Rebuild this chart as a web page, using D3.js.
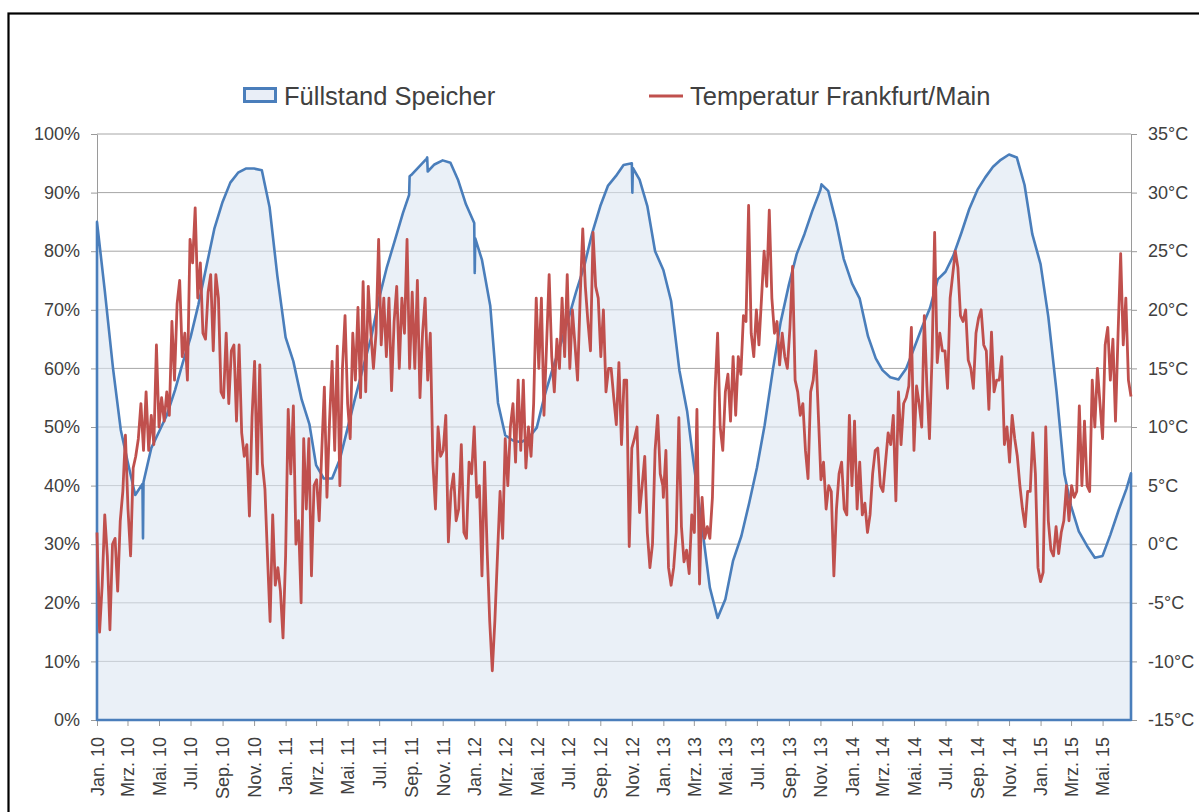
<!DOCTYPE html>
<html>
<head>
<meta charset="utf-8">
<script src="https://cdn.jsdelivr.net/npm/d3@7"></script>
<style>
body { margin: 0; background: #fff; }
text { font-family: "Liberation Sans", Arial, sans-serif; fill: #404040; }
</style>
</head>
<body>
<script>
// Fuellstand Speicher in %, one value on the 1st and one on the 16th of each month
var storage2010 = [85, 73.3, 60, 49.5, 44.2, 38.4, 40.6, 46.4, 49.2, 52, 56.3, 61, 65.3, 70.8, 77.5, 83.8, 88.4, 91.7, 93.4, 94.1, 94.1, 93.8, 87.5, 75.8]
var storage2011 = [65.3, 61.2, 54.7, 50.5, 43.5, 41.2, 41.2, 44.5, 49.8, 55.1, 60.5, 65.4, 72, 77.3, 82, 86.5, 93, 94.4, 95.8, 94.8, 95.5, 95.1, 92.1, 88]
var storage2012 = [84.8, 78.5, 70.7, 54.1, 48.6, 47.7, 47.4, 48.2, 49.9, 55.3, 60, 64, 68.4, 73, 77.5, 83, 87.7, 91.2, 92.8, 94.7, 95, 92.2, 87.7, 80]
var storage2013 = [76.8, 71.5, 59.7, 52.7, 43.6, 33.6, 22.6, 17.4, 20.6, 27.2, 31.4, 37, 43, 50.3, 59.8, 67.9, 74.3, 79.5, 82.9, 86.8, 90.5, 90.3, 85.1, 78.7]
var storage2014 = [74.5, 71.9, 65.5, 61.7, 59.7, 58.5, 58.1, 60, 63.4, 66.9, 70.3, 75.2, 76.5, 79.2, 83.2, 87.2, 90.5, 92.6, 94.4, 95.6, 96.5, 96, 91.3, 82.9]
var storage2015 = [77.8, 68.8, 56, 42, 36.5, 32.2, 29.7, 27.7, 28, 31.6, 35.8, 39.4]
// single-day jumps and the last value
var storageExtra = [["2010-03-30", 40.3], ["2010-03-31", 31], ["2011-08-28", 89.6], ["2011-08-29", 92.8],
  ["2011-10-02", 96], ["2011-10-03", 93.6], ["2012-01-02", 76.3], ["2012-01-03", 82.2],
  ["2012-11-02", 90], ["2012-11-03", 94.2], ["2013-11-03", 91.4], ["2015-06-25", 42.1]]

// Temperatur Frankfurt/Main in degC, one value every 5 days from Jan 1
var temp2010 = [1, -7.5, -3.5, 2.5, -1, -7.3, 0, 0.5, -4, 2, 4.5, 9.3, 3, -1, 6.5, 7.5, 9, 12, 8, 13,
  8, 11, 8.5, 17, 10, 12.5, 10.5, 13, 11, 19, 14, 20.5, 22.5, 16, 18, 14, 26, 24, 28.7, 21,
  24, 18, 17.5, 21.5, 23, 16.5, 23, 21, 13, 12.5, 18, 12, 16.5, 17, 10.5, 17, 9.5, 7.5, 8.5, 2.4,
  10.8, 15.6, 6, 15.3, 6.9, 4.7, -1.1, -6.6, 2.5, -3.5, -2, -4, -8]
var temp2011 = [-1, 11.5, 6, 11.8, 0, 2, -5, 9, 3, 9, -2.7, 5, 5.5, 2, 8, 13.4, 4, 10.5, 15.6, 8,
  16.9, 5, 15, 19.5, 12, 9, 18, 14, 20.2, 12.5, 22.4, 13, 22, 18, 15, 18, 26, 17, 21, 16,
  21, 13.1, 19, 22, 15, 21, 18, 26, 15, 21.5, 15, 22.5, 12.5, 18, 21, 14, 18, 7, 3, 10,
  7.5, 8, 11, 0.2, 4.5, 6, 2, 3, 8.5, 1, 0.5, 7, 6]
var temp2012 = [10, 4, 5, -2.7, 7, -0.5, -6.6, -10.8, -6.5, -1, 4.5, 0.5, 9, 5, 10, 12, 7, 14, 8, 14,
  6.5, 10, 7.5, 12, 21, 15, 21, 11, 17, 23, 16, 13, 17.5, 15, 21, 16, 23, 15, 20, 17,
  14, 21, 26.9, 22, 19, 16.5, 26.6, 22, 21, 16, 20, 13, 15, 15, 12.5, 10.2, 15.5, 8.5, 14, 14,
  -0.2, 8.2, 9, 10, 2.7, 5, 7.5, 1, -2, 0, 8, 11, 6, 5]
var temp2013 = [4, 8, -2, -3.5, -2, 1, 10.8, 1.5, -1.5, -0.5, -2.5, 2.5, 1, 11.5, -3.4, 4, 0.5, 1.5, 0.5, 4,
  13, 18, 10, 8, 13, 14.5, 10.5, 16, 11, 16, 14.5, 19.5, 19, 28.9, 18, 16, 20, 17, 21, 25,
  22, 28.5, 21, 18, 19, 15.3, 18, 16, 15, 18.5, 23.7, 14, 13, 11, 12, 8, 5.6, 13, 14, 16.5,
  11, 5.5, 7, 3, 5, 4.5, -2.7, 3, 6, 7, 3, 2.5, 11]
var temp2014 = [5, 10.5, 3, 7, 2.5, 3.5, 1, 2.5, 6, 8, 8.2, 5, 4.5, 7, 9.5, 8.5, 11, 3.7, 13, 8.5,
  12, 12.5, 13.5, 18.5, 8, 13.5, 12, 10, 19.5, 13.5, 9, 16, 26.6, 15.5, 18, 16.5, 16.5, 13.3, 21, 23,
  25, 23.6, 19.5, 19, 20, 15.7, 15, 13.3, 18, 19.3, 20, 17, 16.5, 11.5, 18.1, 13, 14, 14, 16, 8.5,
  10, 7, 11, 9, 7.5, 5, 3, 1.5, 4.5, 4.5, 9.5, 6, -2]
var temp2015 = [-3.2, -2.4, 10, 2, -0.5, -1, 1.5, -0.8, 1, 2, 5, 2, 5, 4, 4.5, 11.8, 5, 10.5, 5, 4.5,
  14, 10, 15, 12, 9, 17, 18.5, 14, 17.5, 10.5, 18, 24.8, 17, 21, 14, 12.6]

var monthNames = ["Jan.", "Feb.", "Mrz.", "Apr.", "Mai.", "Jun.", "Jul.", "Aug.", "Sep.", "Okt.", "Nov.", "Dez."]
var pctTicks = [0, 10, 20, 30, 40, 50, 60, 70, 80, 90, 100]
var tempTicks = [-15, -10, -5, 0, 5, 10, 15, 20, 25, 30, 35]

var storageYears = [[2010, storage2010], [2011, storage2011], [2012, storage2012],
                    [2013, storage2013], [2014, storage2014], [2015, storage2015]]
var tempYears = [[2010, temp2010], [2011, temp2011], [2012, temp2012],
                 [2013, temp2013], [2014, temp2014], [2015, temp2015]]

var storage = []
storageYears.forEach(function(p) {
  p[1].forEach(function(v, i) {
    storage.push({date: new Date(p[0], Math.floor(i / 2), i % 2 ? 16 : 1), value: v})
  })
})
storageExtra.forEach(function(e) {
  var s = e[0].split("-")
  storage.push({date: new Date(+s[0], +s[1] - 1, +s[2]), value: e[1]})
})
storage.sort(function(a, b) { return a.date - b.date })

var temps = []
tempYears.forEach(function(p) {
  p[1].forEach(function(v, i) {
    temps.push({date: d3.timeDay.offset(new Date(p[0], 0, 1), 5 * i), value: v})
  })
})

var svg = d3.select("body").append("svg")
  .attr("width", 1199)
  .attr("height", 812)

// outer frame
svg.append("rect")
  .attr("x", 8.5).attr("y", 13.5)
  .attr("width", 1300).attr("height", 900)
  .attr("fill", "none").attr("stroke", "#000").attr("stroke-width", 2.2)

var plotLeft = 97, plotRight = 1131, plotTop = 134, plotBottom = 720

var x = d3.scaleTime().domain([new Date(2010, 0, 1), new Date(2015, 5, 25)]).range([plotLeft, plotRight])
var yPct = d3.scaleLinear().domain([0, 100]).range([plotBottom, plotTop])
var yTemp = d3.scaleLinear().domain([-15, 35]).range([plotBottom, plotTop])

// gridlines
svg.append("g").selectAll("line")
  .data(pctTicks.slice(1)).enter()
  .append("line")
  .attr("x1", plotLeft).attr("x2", plotRight)
  .attr("y1", function(d) { return yPct(d) })
  .attr("y2", function(d) { return yPct(d) })
  .attr("stroke", "#a6a6a6")
  .attr("stroke-width", 1)

function styleAxis(g) {
  g.select(".domain").attr("stroke", "#9a9a9a").attr("stroke-width", 1)
  g.selectAll(".tick line").attr("stroke", "#9a9a9a")
  g.selectAll("text").attr("font-size", "18px").attr("fill", "#404040")
    .attr("font-family", "'Liberation Sans', Arial, sans-serif")
}

var yAxisL = svg.append("g")
  .attr("transform", "translate(" + plotLeft + ",0)")
  .call(d3.axisLeft(yPct).tickValues(pctTicks).tickFormat(function(d) { return d + "%" })
    .tickSize(6).tickSizeOuter(0).tickPadding(11))
styleAxis(yAxisL)

var yAxisR = svg.append("g")
  .attr("transform", "translate(" + plotRight + ",0)")
  .call(d3.axisRight(yTemp).tickValues(tempTicks).tickFormat(function(d) { return d + "°C" })
    .tickSize(6).tickSizeOuter(0).tickPadding(11))
styleAxis(yAxisR)

var xTicks = d3.timeMonth.every(2).range(new Date(2010, 0, 1), new Date(2015, 6, 1))
var xAxis = svg.append("g")
  .attr("transform", "translate(0," + plotBottom + ")")
  .call(d3.axisBottom(x).tickValues(xTicks)
    .tickFormat(function(d) { return monthNames[d.getMonth()] + " " + String(d.getFullYear()).slice(2) })
    .tickSize(6).tickSizeOuter(0))
styleAxis(xAxis)
xAxis.selectAll("text")
  .attr("transform", "rotate(-90)")
  .attr("text-anchor", "end")
  .attr("x", -17).attr("y", 0).attr("dy", "0.35em")

// storage area
var area = d3.area()
  .x(function(d) { return x(d.date) })
  .y0(plotBottom)
  .y1(function(d) { return yPct(d.value) })

svg.append("path")
  .datum(storage)
  .attr("d", area)
  .attr("fill", "#dce6f2")
  .attr("fill-opacity", 0.6)
  .attr("stroke", "#4a7ebb")
  .attr("stroke-width", 2.6)
  .attr("stroke-linejoin", "round")

// temperature line
var line = d3.line()
  .x(function(d) { return x(d.date) })
  .y(function(d) { return yTemp(d.value) })

svg.append("path")
  .datum(temps)
  .attr("d", line)
  .attr("fill", "none")
  .attr("stroke", "#c0504d")
  .attr("stroke-width", 2.8)
  .attr("stroke-linejoin", "round")

// legend
var legend = svg.append("g")
legend.append("rect")
  .attr("x", 244.5).attr("y", 88.5).attr("width", 31).attr("height", 13)
  .attr("fill", "#e9eef7").attr("stroke", "#4a7ebb").attr("stroke-width", 3)
legend.append("text")
  .attr("x", 284).attr("y", 105)
  .attr("font-size", "25.5px")
  .text("Füllstand Speicher")
legend.append("line")
  .attr("x1", 649).attr("x2", 683).attr("y1", 96).attr("y2", 96)
  .attr("stroke", "#c0504d").attr("stroke-width", 3)
legend.append("text")
  .attr("x", 690).attr("y", 105)
  .attr("font-size", "25.5px")
  .text("Temperatur Frankfurt/Main")
</script>
</body>
</html>
